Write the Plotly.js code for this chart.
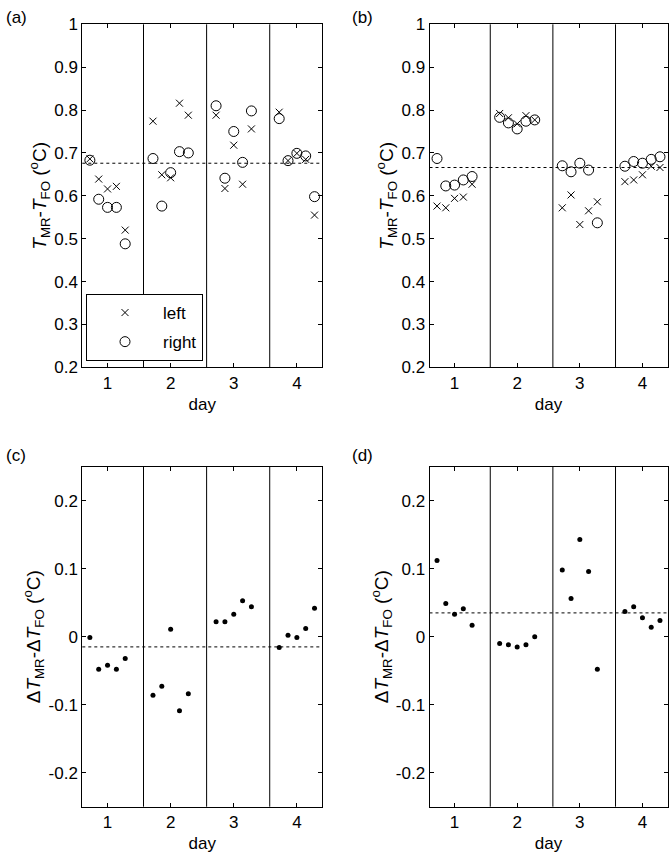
<!DOCTYPE html>
<html>
<head>
<meta charset="utf-8">
<script src="https://cdn.plot.ly/plotly-3.0.1.min.js"></script>
<style>html,body{margin:0;padding:0;background:#fff;}#chart{width:672px;height:865px;}</style>
</head>
<body>
<div id="chart"></div>
<script>
// ---- data ----
const days = [1, 2, 3, 4];
const slotOffsets = [-0.28, -0.14, 0, 0.14, 0.28];   // 5 measurements per day
const dayBoundaries = [1.57, 2.57, 3.57];
const xTickLabels = ['1', '2', '3', '4'];

// (a)
const aLeft  = [0.686, 0.639, 0.616, 0.622, 0.520,
                0.774, 0.649, 0.642, 0.816, 0.788,
                0.788, 0.617, 0.718, 0.627, 0.756,
                0.795, 0.682, 0.699, 0.685, 0.555];
const aRight = [0.683, 0.592, 0.573, 0.573, 0.488,
                0.687, 0.576, 0.654, 0.703, 0.700,
                0.810, 0.641, 0.750, 0.678, 0.798,
                0.780, 0.682, 0.699, 0.693, 0.598];
const aMean = 0.676;

// (b)
const bLeft  = [0.576, 0.572, 0.594, 0.597, 0.627,
                0.792, 0.782, 0.768, 0.787, 0.777,
                0.572, 0.602, 0.533, 0.565, 0.586,
                0.633, 0.637, 0.649, 0.669, 0.666];
const bRight = [0.687, 0.623, 0.625, 0.637, 0.645,
                0.783, 0.770, 0.756, 0.774, 0.777,
                0.670, 0.656, 0.676, 0.660, 0.537,
                0.669, 0.680, 0.676, 0.685, 0.691];
const bMean = 0.666;

// (c)
const cDiff = [-0.001, -0.048, -0.042, -0.048, -0.032,
               -0.086, -0.073, 0.011, -0.109, -0.084,
               0.022, 0.022, 0.033, 0.053, 0.044,
               -0.016, 0.002, -0.001, 0.012, 0.042];
const cMean = -0.015;

// (d)
const dDiff = [0.112, 0.049, 0.033, 0.041, 0.017,
               -0.010, -0.012, -0.015, -0.012, 0.000,
               0.098, 0.056, 0.143, 0.096, -0.048,
               0.037, 0.044, 0.028, 0.014, 0.024];
const dMean = 0.035;

const topTicks = [0.2, 0.3, 0.4, 0.5, 0.6, 0.7, 0.8, 0.9, 1];
const topTickText = ['0.2', '0.3', '0.4', '0.5', '0.6', '0.7', '0.8', '0.9', '1'];
const botTicks = [-0.2, -0.1, 0, 0.1, 0.2];
const botTickText = ['-0.2', '-0.1', '0', '0.1', '0.2'];

// ---- build ----
const xs = [];
days.forEach(d => slotOffsets.forEach(o => xs.push(d + o)));

const FONT = 'Liberation Sans, Arial, sans-serif';
const crossM = {symbol: 'x-thin-open', size: 7, color: 'black', line: {color: 'black', width: 1}};
const circM = {symbol: 'circle-open', size: 10, color: 'black', line: {color: 'black', width: 1}};
const dotM = {symbol: 'circle', size: 5, color: 'black'};

const traces = [
  {x: xs, y: aLeft, xaxis: 'x', yaxis: 'y', mode: 'markers', marker: crossM, name: 'left', showlegend: true, legendgroup: 'g1'},
  {x: xs, y: aRight, xaxis: 'x', yaxis: 'y', mode: 'markers', marker: circM, name: 'right', showlegend: true, legendgroup: 'g2'},
  {x: xs, y: bLeft, xaxis: 'x2', yaxis: 'y2', mode: 'markers', marker: crossM, showlegend: false},
  {x: xs, y: bRight, xaxis: 'x2', yaxis: 'y2', mode: 'markers', marker: circM, showlegend: false},
  {x: xs, y: cDiff, xaxis: 'x3', yaxis: 'y3', mode: 'markers', marker: dotM, showlegend: false},
  {x: xs, y: dDiff, xaxis: 'x4', yaxis: 'y4', mode: 'markers', marker: dotM, showlegend: false}
];

function xax(domain, anchor) {
  return {domain: domain, anchor: anchor, range: [0.6, 4.4], tickvals: days, ticktext: xTickLabels,
    showline: true, mirror: 'ticks', linecolor: 'black', linewidth: 1, ticks: 'inside', ticklen: 4,
    tickcolor: 'black', showgrid: false, zeroline: false,
    tickfont: {family: FONT, size: 17, color: 'black'},
    title: {text: 'day', font: {family: FONT, size: 17, color: 'black'}, standoff: 6}};
}
function yax(domain, anchor, range, tv, tt, title) {
  return {domain: domain, anchor: anchor, range: range, tickvals: tv, ticktext: tt,
    showline: true, mirror: 'ticks', linecolor: 'black', linewidth: 1, ticks: 'inside', ticklen: 4,
    tickcolor: 'black', showgrid: false, zeroline: false,
    tickfont: {family: FONT, size: 17, color: 'black'},
    title: {text: title, font: {family: FONT, size: 19, color: 'black'}, standoff: 2}};
}

const W = 672, H = 865;
const xL = [82.3 / W, 322.1 / W];
const xR = [429.5 / W, 667.5 / W];
const yT = [1 - 367.3 / H, 1 - 24.3 / H];
const yB = [1 - 806.7 / H, 1 - 466.7 / H];

const topTitle = '<i>T</i><sub>MR</sub>-<i>T</i><sub>FO</sub> (<sup>o</sup>C)';
const botTitle = '\u0394<i>T</i><sub>MR</sub>-\u0394<i>T</i><sub>FO</sub> (<sup>o</sup>C)';

const shapes = [];
const axPairs = [['x', 'y', aMean], ['x2', 'y2', bMean], ['x3', 'y3', cMean], ['x4', 'y4', dMean]];
axPairs.forEach(([xa, ya, m]) => {
  dayBoundaries.forEach(b => shapes.push({type: 'line', xref: xa, yref: ya + ' domain', x0: b, x1: b, y0: 0, y1: 1,
    line: {color: 'black', width: 1}}));
  shapes.push({type: 'line', xref: xa + ' domain', yref: ya, x0: 0, x1: 1, y0: m, y1: m,
    line: {color: 'black', width: 1, dash: 'dot'}});
});

const panelLabels = [['(a)', 4, 17], ['(b)', 350, 17], ['(c)', 4, 456], ['(d)', 350, 456]];
const annotations = panelLabels.map(([t, px, py]) => ({
  text: t, xref: 'paper', yref: 'paper', x: px / W, y: 1 - py / H, xanchor: 'left', yanchor: 'middle',
  showarrow: false, font: {family: FONT, size: 17, color: 'black'}
}));

const layout = {
  width: W, height: H, margin: {l: 0, r: 0, t: 0, b: 0},
  paper_bgcolor: 'white', plot_bgcolor: 'white',
  font: {family: FONT, color: 'black'},
  xaxis: xax(xL, 'y'), yaxis: yax(yT, 'x', [0.2, 1], topTicks, topTickText, topTitle),
  xaxis2: xax(xR, 'y2'), yaxis2: yax(yT, 'x2', [0.2, 1], topTicks, topTickText, topTitle),
  xaxis3: xax(xL, 'y3'), yaxis3: yax(yB, 'x3', [-0.25, 0.25], botTicks, botTickText, botTitle),
  xaxis4: xax(xR, 'y4'), yaxis4: yax(yB, 'x4', [-0.25, 0.25], botTicks, botTickText, botTitle),
  shapes: shapes, annotations: annotations,
  showlegend: true,
  legend: {x: 86 / W, y: 1 - 294 / H, xanchor: 'left', yanchor: 'top', bgcolor: 'white',
    bordercolor: 'black', borderwidth: 1, font: {family: FONT, size: 17, color: 'black'},
    itemwidth: 66, tracegroupgap: 4, entrywidth: 72}
};

Plotly.newPlot('chart', traces, layout, {displayModeBar: false, staticPlot: true});
</script>
</body>
</html>
